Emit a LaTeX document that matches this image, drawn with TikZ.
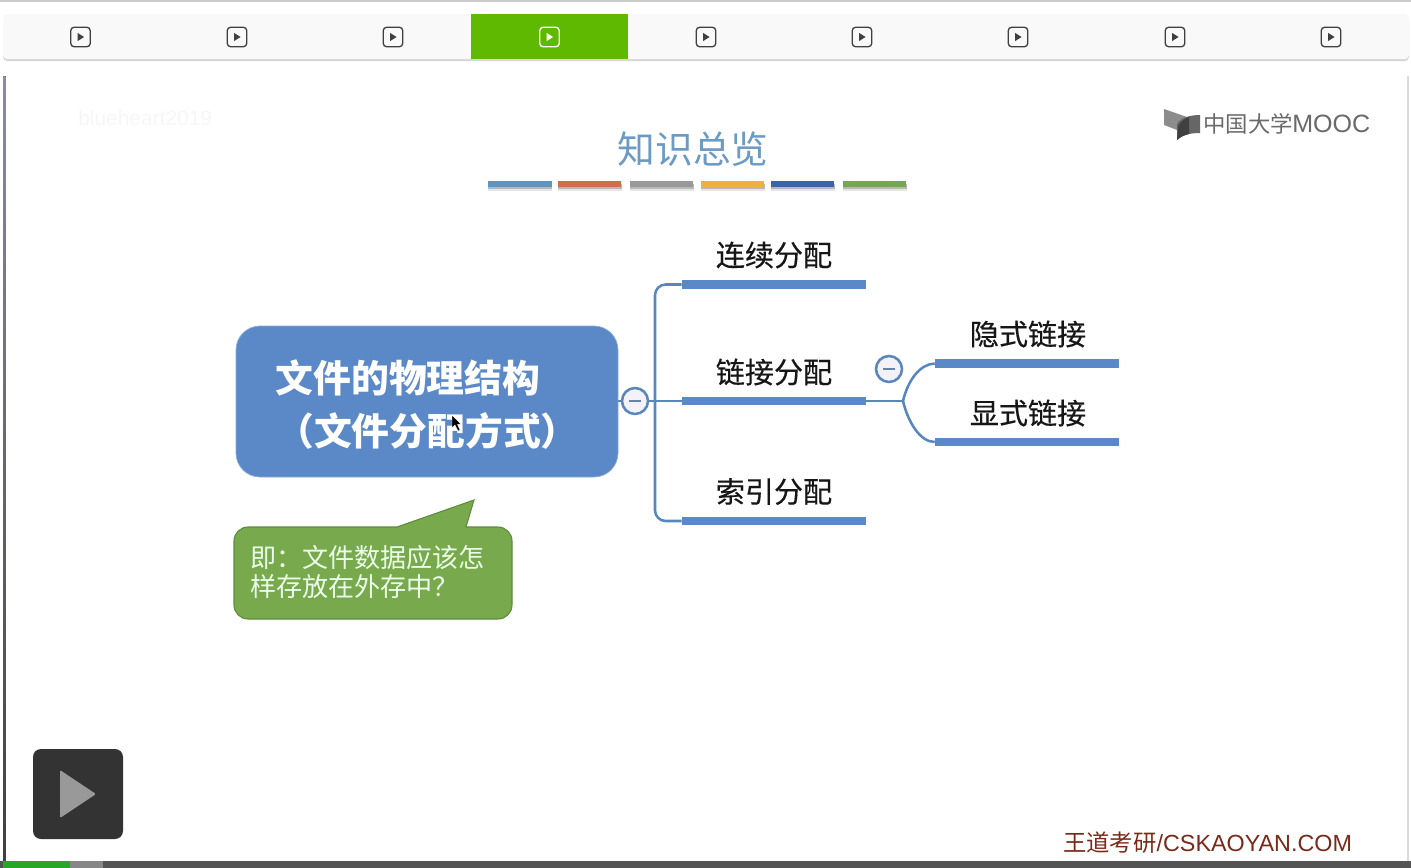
\documentclass[tikz,border=0pt]{standalone}
\usepackage{fontspec}
\setmainfont{Liberation Sans}
\newfontfamily\cjk{Noto Sans CJK SC}
\newfontfamily\cjkm[FakeBold=0.35]{Noto Sans CJK SC}
\definecolor{mainblue}{HTML}{5B88C6}
\definecolor{linkblue}{HTML}{5A86BE}
\definecolor{titleblue}{HTML}{6C9AC4}
\definecolor{calloutgreen}{HTML}{78A94D}
\definecolor{calloutedge}{HTML}{5F8B3C}
\definecolor{tabgreen}{HTML}{5FB900}
\definecolor{barface}{HTML}{F9F9F9}
\definecolor{inkdark}{HTML}{161616}
\definecolor{brand}{HTML}{7A2A1A}
\definecolor{logogrey}{HTML}{6A6A6A}
\definecolor{knobfill}{HTML}{F2F2F8}
\tikzset{
  tabicon/.style={draw=#1,line width=1pt,rounded corners=2.5pt,minimum width=14.6pt,minimum height=14.6pt,inner sep=0pt,fill=none},
  tabplay/.style={fill=#1,draw=none},
  deco/.style={minimum width=47.5pt,minimum height=4.5pt,inner sep=0pt,draw=none,fill=#1},
  bar/.style={fill=mainblue,draw=none,minimum width=138pt,minimum height=6.2pt,inner sep=0pt},
  label/.style={font=\cjkm\fontsize{21.8pt}{24pt}\selectfont,text=inkdark,inner sep=0pt},
  conn/.style={draw=linkblue,line width=1.9pt,rounded corners=8pt},
  collapse/.style={circle,draw=linkblue,line width=1.9pt,fill=knobfill,minimum size=19.5pt,inner sep=0pt},
  minusmark/.style={draw=linkblue!65!gray,line width=1.3pt},
  rootbox/.style={fill=mainblue,draw=mainblue!70!white,line width=0.5pt,rounded corners=18pt},
  roottext/.style={font=\cjk\bfseries\fontsize{28.35pt}{30pt}\selectfont,text=white,inner sep=0pt,anchor=west},
  callouttext/.style={font=\cjk\fontsize{19.55pt}{22pt}\selectfont,text=white!92!green,inner sep=0pt,anchor=west},
}
\newcommand{\tabbtn}[3]{%
  \node[tabicon=#2] (#3) at (#1,37) {};
  \fill[tabplay=#2] (#1-2.8,33) -- (#1+3.6,37) -- (#1-2.8,41) -- cycle;}
\begin{document}
\begin{tikzpicture}[x=0.75pt,y=-0.75pt]
\useasboundingbox (0,0) rectangle (1411,868);
\fill[white] (0,0) rectangle (1411,868);
% top strip
\fill[black!20] (0,0) rectangle (1411,1.5);
\fill[black!16,rounded corners=3pt] (3,16) rectangle (1409,61);
\fill[barface,rounded corners=3pt] (3,14) rectangle (1409,59);
\node[fill=tabgreen,minimum width=117.75pt,minimum height=33.75pt,inner sep=0pt] (tab) at (549.5,36.5) {};
\tabbtn{80.5}{black!75}{t1}
\tabbtn{237}{black!75}{t2}
\tabbtn{393}{black!75}{t3}
\tabbtn{549.5}{white}{t4}
\tabbtn{706}{black!75}{t5}
\tabbtn{862}{black!75}{t6}
\tabbtn{1018}{black!75}{t7}
\tabbtn{1175}{black!75}{t8}
\tabbtn{1331}{black!75}{t9}
% frame edges
\fill[top color=blue!20!black!45,bottom color=black!75] (3,76) rectangle (5.5,861);
\fill[black!14] (1407,76) rectangle (1408.5,861);
% watermark
\node[font=\fontsize{15.7pt}{17pt}\selectfont,text=black!3,inner sep=0pt,anchor=west] (wm) at (78,118) {blueheart2019};
% title
\node[font=\cjk\fontsize{28.3pt}{30pt}\selectfont,text=titleblue,inner sep=0pt] (title) at (693,149) {知识总览};
\foreach \x/\c/\n in {520/5F94C0/a,589.5/CF6E48/b,661.5/999999/c,732.5/F0B040/d,802.5/3C64A8/e,874.5/73A750/f}{
  \definecolor{tmpdeco}{HTML}{\c}
  \fill[black!10] (\x-32,184) rectangle (\x+32,191);
  \fill[black!28] (\x-32,184) rectangle (\x+32,189);
  \node[deco=tmpdeco] (deco\n) at (\x,184) {};
}
% logo
\fill[black!45] (1164,109) -- (1187,117) -- (1178,125) -- (1177,130) -- (1164,125) -- cycle;
\fill[black!60] (1177,124) .. controls (1180,118) and (1190,115) .. (1200,115) -- (1200,133) .. controls (1190,133) and (1182,135) .. (1177,140) -- cycle;
\fill[black!75] (1178,126) .. controls (1182,120) and (1186,118) .. (1189,117) -- (1189,134) .. controls (1185,135) and (1180,137) .. (1177,140) -- cycle;
\node[font=\cjk\fontsize{16.8pt}{18pt}\selectfont,text=logogrey,inner sep=0pt,anchor=west] (logocn) at (1203,124) {中国大学};
\node[font=\fontsize{18.8pt}{20pt}\selectfont,text=logogrey,inner sep=0pt,anchor=west] (logoen) at (1292,124) {MOOC};
% root
\draw[rootbox] (236,326) rectangle (618,477);
\coordinate (rootE) at (618,401);
\node[roottext] (rt1) at (275.5,378) {文件的物理结构};
\node[roottext] (rt2) at (276,431) {（文件分配方式）};
% bars
\node[bar] (b1) at (774,284.5) {};
\node[bar] (b2) at (774,401) {};
\node[bar] (b3) at (774,521) {};
\node[bar] (s1) at (1027,363.5) {};
\node[bar] (s2) at (1027,442) {};
\node[label] (l1) at (774,255) {连续分配};
\node[label] (l2) at (774,372) {链接分配};
\node[label] (l3) at (774,491.5) {索引分配};
\node[label] (l4) at (1028,334) {隐式链接};
\node[label] (l5) at (1028,413) {显式链接};
% connectors
\coordinate (trunk) at (655,401);
\coordinate (fork) at (903,401);
\draw[conn,rounded corners=0pt] (rootE) -- (b2.west);
\draw[conn] (trunk) |- (b1.west);
\draw[conn] (trunk) |- (b3.west);
\draw[conn,rounded corners=0pt] (b2.east) -- (fork);
\draw[conn,rounded corners=0pt] (fork) .. controls (908,380) and (920,364) .. (s1.west);
\draw[conn,rounded corners=0pt] (fork) .. controls (908,422) and (920,442) .. (s2.west);
% collapse marks
\node[collapse] (c1) at (635,401) {};
\draw[minusmark] (629,401) -- (641,401);
\node[collapse] (c2) at (889,369) {};
\draw[minusmark] (883,369) -- (895,369);
% callout
\draw[fill=calloutgreen,draw=calloutedge,line width=0.8pt,rounded corners=0pt]
  (248,527) -- (397,527) -- (474,500) -- (466,527) -- (498,527)
  arc[start angle=-90,end angle=0,radius=14] -- (512,605)
  arc[start angle=0,end angle=90,radius=14] -- (248,619)
  arc[start angle=90,end angle=180,radius=14] -- (234,541)
  arc[start angle=180,end angle=270,radius=14] -- cycle;
\node[callouttext] (ct1) at (250,558) {即：文件数据应该怎};
\node[callouttext] (ct2) at (250,587) {样存放在外存中？};
% cursor
\fill[black,draw=white,line width=0.3pt] (452,415) -- (452,428) -- (455,425) -- (458,431) -- (460,430) -- (457.5,424.5) -- (461,424) -- cycle;
% player button
\fill[black!80,rounded corners=6pt] (33,749) rectangle (123,839);
\fill[black!40,rounded corners=1pt] (60,770) -- (96,794) -- (60,818) -- cycle;
% bottom progress
\fill[black!67] (0,861) rectangle (1411,868);
\fill[black!47] (70,861) rectangle (103,868);
\fill[green!60!black!85!white] (3,861) rectangle (70,868);
% brand
\node[font=\fontsize{17.5pt}{19pt}\selectfont,text=brand,inner sep=0pt,anchor=west] (brandtxt) at (1063,843) {{\cjk 王道考研}/CSKAOYAN.COM};
\end{tikzpicture}
\end{document}
